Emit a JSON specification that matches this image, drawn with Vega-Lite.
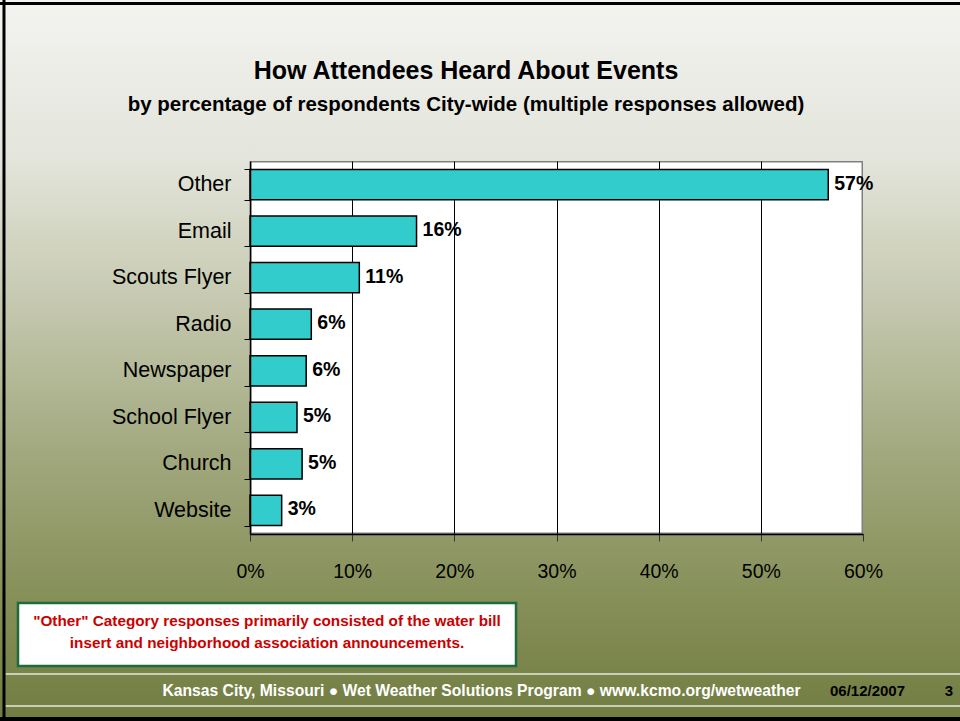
{
  "$schema": "https://vega.github.io/schema/vega-lite/v6.json",
  "width": 613,
  "height": 373,
  "autosize": {"type": "none"},
  "padding": {"left": 250, "top": 161, "right": 97, "bottom": 187},
  "background": "#d9dbcd",
  "view": {"fill": "#ffffff", "stroke": "#808080", "strokeWidth": 3},
  "title": {
    "text": "How Attendees Heard About Events",
    "subtitle": "by percentage of respondents City-wide (multiple responses allowed)",
    "anchor": "middle",
    "frame": "group",
    "dx": -90.5,
    "offset": -124,
    "font": "Liberation Sans",
    "fontSize": 25,
    "fontWeight": "bold",
    "color": "#000000",
    "subtitleFont": "Liberation Sans",
    "subtitleFontSize": 20.5,
    "subtitleFontWeight": "bold",
    "subtitleColor": "#000000",
    "subtitlePadding": 11
  },
  "datasets": {
    "responses": [
      {"source": "Other", "pct": 56.6, "label": "57%"},
      {"source": "Email", "pct": 16.3, "label": "16%"},
      {"source": "Scouts Flyer", "pct": 10.7, "label": "11%"},
      {"source": "Radio", "pct": 6.0, "label": "6%"},
      {"source": "Newspaper", "pct": 5.5, "label": "6%"},
      {"source": "School Flyer", "pct": 4.6, "label": "5%"},
      {"source": "Church", "pct": 5.1, "label": "5%"},
      {"source": "Website", "pct": 3.1, "label": "3%"}
    ]
  },
  "layer": [
    {
      "data": {"values": [{}]},
      "mark": {"type": "rect", "fill": {"gradient": "linear", "x1": 0, "y1": 0, "x2": 0, "y2": 1, "stops": [{"offset": 0, "color": "#f4f4f2"}, {"offset": 1, "color": "#e3e4da"}]}},
      "encoding": {
        "x": {"datum": -25, "type": "quantitative", "scale": {"domain": [0, 60], "nice": false}, "axis": null},
        "x2": {"datum": 70},
        "y": {"datum": 1, "type": "quantitative", "scale": {"domain": [0, 1], "nice": false}, "axis": null},
        "y2": {"datum": 1.45}
      }
    },
    {
      "data": {"values": [{}]},
      "mark": {"type": "rect", "fill": {"gradient": "linear", "x1": 0, "y1": 0, "x2": 0, "y2": 1, "stops": [{"offset": 0, "color": "#e3e4da"}, {"offset": 0.3727, "color": "#c6c9b0"}, {"offset": 0.7748, "color": "#a2a97f"}, {"offset": 1, "color": "#929a69"}]}},
      "encoding": {
        "x": {"datum": -25, "type": "quantitative", "scale": {"domain": [0, 60], "nice": false}, "axis": null},
        "x2": {"datum": 0},
        "y": {"datum": 0, "type": "quantitative", "scale": {"domain": [0, 1], "nice": false}, "axis": null},
        "y2": {"datum": 1}
      }
    },
    {
      "data": {"values": [{}]},
      "mark": {"type": "rect", "fill": {"gradient": "linear", "x1": 0, "y1": 0, "x2": 0, "y2": 1, "stops": [{"offset": 0, "color": "#e3e4da"}, {"offset": 0.3727, "color": "#c6c9b0"}, {"offset": 0.7748, "color": "#a2a97f"}, {"offset": 1, "color": "#929a69"}]}},
      "encoding": {
        "x": {"datum": 60, "type": "quantitative", "scale": {"domain": [0, 60], "nice": false}, "axis": null},
        "x2": {"datum": 70},
        "y": {"datum": 0, "type": "quantitative", "scale": {"domain": [0, 1], "nice": false}, "axis": null},
        "y2": {"datum": 1}
      }
    },
    {
      "data": {"values": [{}]},
      "mark": {"type": "rect", "fill": {"gradient": "linear", "x1": 0, "y1": 0, "x2": 0, "y2": 1, "stops": [{"offset": 0, "color": "#929a69"}, {"offset": 0.353, "color": "#858f57"}, {"offset": 1, "color": "#717c42"}]}},
      "encoding": {
        "x": {"datum": -25, "type": "quantitative", "scale": {"domain": [0, 60], "nice": false}, "axis": null},
        "x2": {"datum": 70},
        "y": {"datum": -0.51, "type": "quantitative", "scale": {"domain": [0, 1], "nice": false}, "axis": null},
        "y2": {"datum": 0}
      }
    },
    {
      "data": {"values": [{}]},
      "mark": {"type": "rule", "stroke": "#000000", "strokeWidth": 3},
      "encoding": {
        "x": {"datum": -24.08, "type": "quantitative", "scale": {"domain": [0, 60], "nice": false}, "axis": null},
        "y": {"datum": -0.51, "type": "quantitative", "scale": {"domain": [0, 1], "nice": false}, "axis": null},
        "y2": {"datum": 1.45}
      }
    },
    {
      "data": {"values": [{}]},
      "mark": {"type": "rule", "stroke": "#000000", "strokeWidth": 3},
      "encoding": {
        "x": {"datum": -25, "type": "quantitative", "scale": {"domain": [0, 60], "nice": false}, "axis": null},
        "x2": {"datum": 70},
        "y": {"datum": 1.4223, "type": "quantitative", "scale": {"domain": [0, 1], "nice": false}, "axis": null}
      }
    },
    {
      "data": {"values": [{}]},
      "mark": {"type": "rule", "stroke": "#000000", "strokeWidth": 4},
      "encoding": {
        "x": {"datum": -25, "type": "quantitative", "scale": {"domain": [0, 60], "nice": false}, "axis": null},
        "x2": {"datum": 70},
        "y": {"datum": -0.496, "type": "quantitative", "scale": {"domain": [0, 1], "nice": false}, "axis": null}
      }
    },
    {
      "data": {"values": [{}]},
      "mark": {"type": "rule", "stroke": "#e6e8dc", "strokeWidth": 1.5},
      "encoding": {
        "x": {"datum": -23.9, "type": "quantitative", "scale": {"domain": [0, 60], "nice": false}, "axis": null},
        "x2": {"datum": 70},
        "y": {"datum": -0.3753, "type": "quantitative", "scale": {"domain": [0, 1], "nice": false}, "axis": null}
      }
    },
    {
      "data": {"values": [{}]},
      "mark": {"type": "rule", "stroke": "#e6e8dc", "strokeWidth": 1.5},
      "encoding": {
        "x": {"datum": -23.9, "type": "quantitative", "scale": {"domain": [0, 60], "nice": false}, "axis": null},
        "x2": {"datum": 70},
        "y": {"datum": -0.4611, "type": "quantitative", "scale": {"domain": [0, 1], "nice": false}, "axis": null}
      }
    },
    {
      "data": {"values": [{}]},
      "mark": {"type": "rect", "fill": "#ffffff", "stroke": "#1e6b3c", "strokeWidth": 2.5},
      "encoding": {
        "x": {"datum": -22.708, "type": "quantitative", "scale": {"domain": [0, 60], "nice": false}, "axis": null},
        "x2": {"datum": 26.036},
        "y": {"datum": -0.185, "type": "quantitative", "scale": {"domain": [0, 1], "nice": false}, "axis": null},
        "y2": {"datum": -0.3539}
      }
    },
    {
      "data": {"values": [{}]},
      "mark": {"type": "text", "align": "center", "baseline": "middle", "font": "Liberation Sans", "fontWeight": "bold", "fontSize": 15.3, "lineHeight": 22, "color": "#cc0000"},
      "encoding": {
        "x": {"datum": 1.664, "type": "quantitative", "scale": {"domain": [0, 60], "nice": false}, "axis": null},
        "y": {"datum": -0.2332, "type": "quantitative", "scale": {"domain": [0, 1], "nice": false}, "axis": null},
        "text": {"value": ["\"Other\" Category responses primarily consisted of the water bill", "insert and neighborhood association announcements."]}
      }
    },
    {
      "data": {"values": [{}]},
      "mark": {"type": "text", "align": "center", "baseline": "middle", "font": "Liberation Sans", "fontWeight": "bold", "fontSize": 15.7, "color": "#ffffff"},
      "encoding": {
        "x": {"datum": 22.66, "type": "quantitative", "scale": {"domain": [0, 60], "nice": false}, "axis": null},
        "y": {"datum": -0.4209, "type": "quantitative", "scale": {"domain": [0, 1], "nice": false}, "axis": null},
        "text": {"value": "Kansas City, Missouri \u25cf Wet Weather Solutions Program \u25cf  www.kcmo.org/wetweather"}
      }
    },
    {
      "data": {"values": [{}]},
      "mark": {"type": "text", "align": "center", "baseline": "middle", "font": "Liberation Sans", "fontWeight": "bold", "fontSize": 15, "color": "#000000"},
      "encoding": {
        "x": {"datum": 60.44, "type": "quantitative", "scale": {"domain": [0, 60], "nice": false}, "axis": null},
        "y": {"datum": -0.4209, "type": "quantitative", "scale": {"domain": [0, 1], "nice": false}, "axis": null},
        "text": {"value": "06/12/2007"}
      }
    },
    {
      "data": {"values": [{}]},
      "mark": {"type": "text", "align": "center", "baseline": "middle", "font": "Liberation Sans", "fontWeight": "bold", "fontSize": 15, "color": "#000000"},
      "encoding": {
        "x": {"datum": 68.42, "type": "quantitative", "scale": {"domain": [0, 60], "nice": false}, "axis": null},
        "y": {"datum": -0.4209, "type": "quantitative", "scale": {"domain": [0, 1], "nice": false}, "axis": null},
        "text": {"value": "3"}
      }
    },
    {
      "data": {"name": "responses"},
      "mark": {"type": "bar", "fill": "#33cccc", "stroke": "#000000", "strokeWidth": 1.5},
      "encoding": {
        "y": {
          "field": "source", "type": "nominal", "sort": null,
          "scale": {"type": "band", "paddingInner": 0.35, "paddingOuter": 0.18},
          "axis": {"orient": "left", "title": null, "zindex": 1, "grid": false, "domain": true, "domainColor": "#000000", "domainWidth": 1.5, "ticks": true, "tickColor": "#000000", "tickSize": 6, "tickWidth": 1, "tickBand": "extent", "labelFont": "Liberation Sans", "labelFontSize": 21.5, "labelColor": "#000000", "labelPadding": 13}
        },
        "x": {
          "field": "pct", "type": "quantitative",
          "scale": {"domain": [0, 60], "nice": false},
          "axis": {"orient": "bottom", "title": null, "zindex": 0, "grid": true, "gridColor": "#000000", "gridWidth": 1, "values": [10, 20, 30, 40, 50], "domain": false, "ticks": false, "labels": false}
        }
      }
    },
    {
      "data": {"name": "responses"},
      "mark": {"type": "text", "align": "left", "baseline": "middle", "dx": 6, "dy": -1, "font": "Liberation Sans", "fontWeight": "bold", "fontSize": 19.5, "color": "#000000"},
      "encoding": {
        "y": {"field": "source", "type": "nominal", "sort": null, "scale": {"type": "band", "paddingInner": 0.35, "paddingOuter": 0.18}, "axis": null},
        "x": {
          "field": "pct", "type": "quantitative",
          "scale": {"domain": [0, 60], "nice": false},
          "axis": {"orient": "bottom", "title": null, "zindex": 1, "grid": false, "values": [0, 10, 20, 30, 40, 50, 60], "labelExpr": "datum.value + '%'", "labelFlush": false, "labelOverlap": false, "domain": true, "domainColor": "#000000", "domainWidth": 1.5, "ticks": true, "tickColor": "#333333", "tickSize": 7, "labelFont": "Liberation Sans", "labelFontSize": 19.5, "labelColor": "#000000", "labelPadding": 21}
        },
        "text": {"field": "label"}
      }
    }
  ],
  "resolve": {"scale": {"y": "independent"}, "axis": {"x": "independent", "y": "independent"}}
}
